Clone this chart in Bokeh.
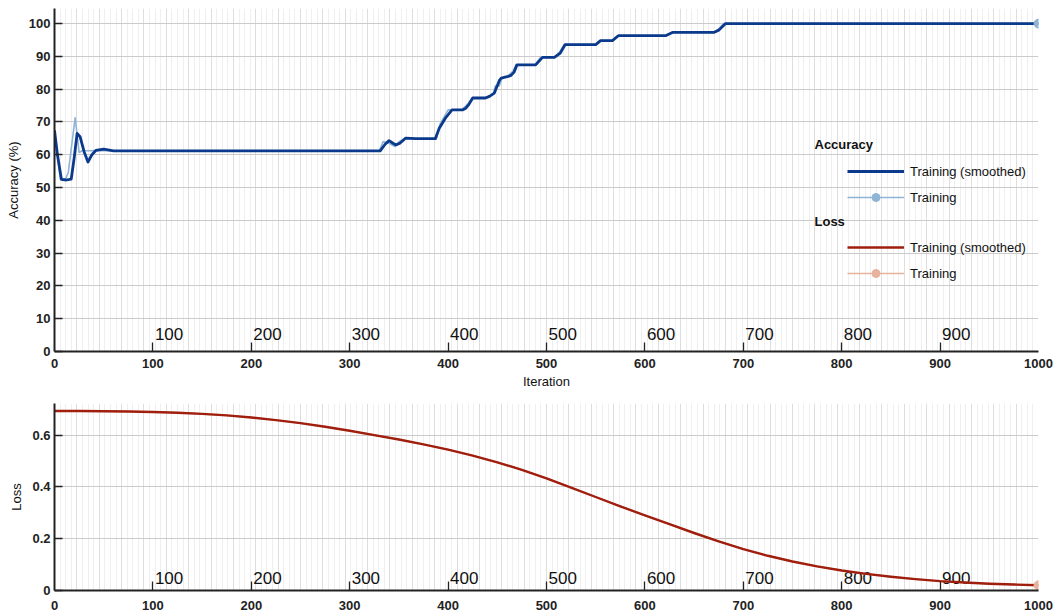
from bokeh.plotting import figure
from bokeh.models import FixedTicker, Range1d, Legend, LegendItem, Label
from bokeh.layouts import column
from bokeh.embed import file_html
from bokeh.resources import INLINE
from bokeh.core.properties import value

FONT = "Liberation Sans"

# ---------------- data ----------------
acc_smooth_iter = [0, 3, 7, 12, 17, 20, 23, 26, 30, 34, 38, 42, 50, 60, 331, 336, 340, 344, 347, 351,
                   357, 367, 387, 391, 398, 404, 415, 418, 421, 425, 438, 442, 447, 452, 454, 460,
                   464, 467, 470, 489, 492, 496, 508, 514, 519, 550, 555, 567, 573, 621, 628, 670,
                   675, 682, 1000]
acc_smooth_val = [67.4, 60.0, 52.5, 52.3, 52.6, 59.0, 66.5, 65.5, 61.0, 57.8, 60.0, 61.3, 61.7, 61.2,
                  61.2, 63.2, 64.3, 63.5, 63.0, 63.5, 65.1, 64.9, 64.9, 68.1, 71.5, 73.7, 73.7, 74.2,
                  75.3, 77.3, 77.3, 77.8, 78.8, 82.6, 83.4, 83.8, 84.2, 85.2, 87.4, 87.4, 88.4, 89.7,
                  89.7, 91.0, 93.6, 93.6, 94.8, 94.8, 96.3, 96.3, 97.3, 97.3, 98.0, 100.0, 100.0]

acc_raw_iter = [0, 6, 11, 14, 21, 25, 28, 60, 330, 334, 340, 346, 350, 356, 365, 388, 392, 400, 414,
                420, 425, 438, 446, 448, 452, 455, 460, 466, 469, 488, 494, 508, 513, 518, 550, 554,
                567, 572, 621, 627, 670, 674, 680, 1000]
acc_raw_val = [67.0, 52.5, 52.5, 54.6, 71.3, 60.7, 61.2, 61.2, 61.2, 64.0, 63.5, 62.5, 64.0, 65.0,
               64.9, 64.9, 69.5, 73.7, 73.7, 75.5, 77.3, 77.3, 78.5, 81.0, 81.0, 83.5, 83.8, 85.5,
               87.4, 87.4, 89.7, 89.7, 91.2, 93.6, 93.6, 94.8, 94.8, 96.3, 96.3, 97.3, 97.3, 98.0,
               100.0, 100.0]

loss_iter = [0, 25, 50, 75, 100, 125, 150, 175, 200, 225, 250, 275, 300, 325, 350, 375, 400,
             425, 450, 475, 500, 525, 550, 575, 600, 625, 650, 675, 700, 725, 750, 775, 800,
             825, 850, 875, 900, 925, 950, 975, 1000]
loss_smooth_val = [0.693, 0.693, 0.692, 0.691, 0.689, 0.686, 0.682, 0.676, 0.668, 0.658, 0.646,
                   0.632, 0.617, 0.600, 0.583, 0.564, 0.544, 0.521, 0.495, 0.466, 0.433, 0.397,
                   0.361, 0.325, 0.290, 0.256, 0.222, 0.190, 0.160, 0.134, 0.112, 0.093, 0.077,
                   0.064, 0.053, 0.044, 0.036, 0.031, 0.026, 0.023, 0.020]
loss_raw_val = [0.693, 0.693, 0.692, 0.691, 0.689, 0.686, 0.682, 0.676, 0.668, 0.658, 0.646,
                0.632, 0.617, 0.600, 0.583, 0.564, 0.544, 0.521, 0.495, 0.466, 0.433, 0.397,
                0.361, 0.325, 0.290, 0.256, 0.222, 0.190, 0.160, 0.134, 0.112, 0.093, 0.077,
                0.064, 0.053, 0.044, 0.036, 0.031, 0.026, 0.023, 0.020]

x_tick_values = [0, 100, 200, 300, 400, 500, 600, 700, 800, 900, 1000]
inner_tick_values = [100, 200, 300, 400, 500, 600, 700, 800, 900]
acc_y_ticks = [0, 10, 20, 30, 40, 50, 60, 70, 80, 90, 100]
loss_y_ticks = [0, 0.2, 0.4, 0.6]
loss_y_labels = ["0", "0.2", "0.4", "0.6"]

# ---------------- colours ----------------
ACC_DARK = "#0b3a8c"
ACC_LIGHT = "#8fb4d6"
LOSS_DARK = "#a01e0d"
LOSS_LIGHT = "#e8b29c"

# vertical background grid (style only)
n_epochs = 44
grid_major = [i * 1000.0 / n_epochs for i in range(n_epochs + 1)]
grid_minor = [i * 1000.0 / (n_epochs * 4) for i in range(n_epochs * 4 + 1)]


def make_fig(height, bl, br, bt, bb, y_end, yticks, show_xlabel, ylabel, xstand):
    p = figure(width=1056, height=height, output_backend="svg", toolbar_location=None,
               x_range=Range1d(0, 1000), y_range=Range1d(0, y_end),
               min_border_left=bl, min_border_right=br, min_border_top=bt, min_border_bottom=bb)
    p.outline_line_color = None
    p.background_fill_color = "white"
    p.border_fill_color = "white"

    p.xgrid.ticker = FixedTicker(ticks=grid_major, minor_ticks=grid_minor)
    p.xgrid.grid_line_color = "#dedede"
    p.xgrid.grid_line_width = 1
    p.xgrid.minor_grid_line_color = "#efefef"
    p.xgrid.minor_grid_line_width = 1
    p.ygrid.ticker = FixedTicker(ticks=yticks)
    p.ygrid.grid_line_color = "#cbcbcb"
    p.ygrid.grid_line_width = 1

    xa = p.xaxis[0]
    xa.ticker = FixedTicker(ticks=x_tick_values, minor_ticks=inner_tick_values)
    xa.major_tick_in = 0
    xa.major_tick_out = 0
    xa.minor_tick_in = 9
    xa.minor_tick_out = 0
    xa.minor_tick_line_color = "#222222"
    xa.minor_tick_line_width = 1.3
    xa.axis_line_color = "#222222"
    xa.axis_line_width = 2
    xa.major_label_text_font = FONT
    xa.major_label_text_font_style = "bold"
    xa.major_label_text_font_size = "13px"
    xa.major_label_text_color = "#222222"
    xa.major_label_standoff = xstand
    if show_xlabel:
        xa.axis_label = "Iteration"
        xa.axis_label_text_font = FONT
        xa.axis_label_text_font_style = "normal"
        xa.axis_label_text_font_size = "13px"
        xa.axis_label_text_color = "#111111"
        xa.axis_label_standoff = 3

    ya = p.yaxis[0]
    ya.ticker = FixedTicker(ticks=yticks)
    ya.major_tick_in = 8
    ya.major_tick_out = 0
    ya.major_tick_line_color = "#222222"
    ya.major_tick_line_width = 1.5
    ya.axis_line_color = "#222222"
    ya.axis_line_width = 2
    ya.major_label_text_font = FONT
    ya.major_label_text_font_style = "bold"
    ya.major_label_text_font_size = "13px"
    ya.major_label_text_color = "#222222"
    ya.major_label_standoff = 4
    ya.axis_label = ylabel
    ya.axis_label_text_font = FONT
    ya.axis_label_text_font_style = "normal"
    ya.axis_label_text_font_size = "13px"
    ya.axis_label_text_color = "#111111"
    ya.axis_label_standoff = 5
    return p


def inner_labels(p, yoff):
    p.text(x=inner_tick_values, y=[0] * len(inner_tick_values),
           text=[str(v) for v in inner_tick_values],
           x_offset=2, y_offset=yoff, text_font=value(FONT), text_font_size="17px",
           text_align="left", text_baseline="bottom", text_color="#111111")


# ---------------- accuracy figure ----------------
p1 = make_fig(392, 54, 16, 8, 41, 104.6, acc_y_ticks, True, "Accuracy (%)", 7)
inner_labels(p1, -12)

acc_r = p1.line(acc_raw_iter, acc_raw_val, line_color=ACC_LIGHT, line_width=1.6, line_join="round")
acc_s = p1.line(acc_smooth_iter, acc_smooth_val, line_color=ACC_DARK, line_width=2.8, line_join="round")
acc_dot = p1.scatter([acc_raw_iter[-1]], [acc_raw_val[-1]], size=9, marker="circle",
                     fill_color=ACC_LIGHT, line_color=ACC_LIGHT)

# proxies for the loss legend entries (placed outside the visible range)
proxy_x = [-600, -500]
proxy_y = [-600, -600]
loss_s_proxy = p1.line(proxy_x, proxy_y, line_color=LOSS_DARK, line_width=2.6)
loss_r_proxy = p1.line(proxy_x, proxy_y, line_color=LOSS_LIGHT, line_width=1.6)
loss_dot_proxy = p1.scatter(proxy_x[:1], proxy_y[:1], size=9, marker="circle",
                            fill_color=LOSS_LIGHT, line_color=LOSS_LIGHT)

common = dict(glyph_width=57, glyph_height=20, label_height=20, spacing=6, padding=0, margin=0,
              label_standoff=6, label_text_font=FONT, label_text_font_size="13px",
              label_text_color="#111111", background_fill_alpha=0, border_line_color=None)

leg_acc = Legend(items=[LegendItem(label="Training (smoothed)", renderers=[acc_s]),
                        LegendItem(label="Training", renderers=[acc_r, acc_dot])],
                 location=(793, 144), **common)
leg_loss = Legend(items=[LegendItem(label="Training (smoothed)", renderers=[loss_s_proxy]),
                         LegendItem(label="Training", renderers=[loss_r_proxy, loss_dot_proxy])],
                  location=(793, 68), **common)
p1.add_layout(leg_acc)
p1.add_layout(leg_loss)

for txt, yy in (("Accuracy", 207), ("Loss", 130)):
    p1.add_layout(Label(x=760, y=yy, x_units="screen", y_units="screen", text=txt,
                        text_font=FONT, text_font_style="bold", text_font_size="13px",
                        text_baseline="middle", text_color="#111111"))

# ---------------- loss figure ----------------
p2 = make_fig(220, 51, 18, 11, 22, 0.722, loss_y_ticks, False, "Loss", 10)
p2.yaxis[0].major_label_overrides = {t: s for t, s in zip(loss_y_ticks, loss_y_labels)}
inner_labels(p2, -7)

p2.line(loss_iter, loss_raw_val, line_color=LOSS_LIGHT, line_width=1.6, line_join="round")
p2.line(loss_iter, loss_smooth_val, line_color=LOSS_DARK, line_width=2.4, line_join="round")
p2.scatter([loss_iter[-1]], [loss_raw_val[-1]], size=9, marker="circle",
           fill_color=LOSS_LIGHT, line_color=LOSS_LIGHT)

layout = column(p1, p2, spacing=0)
open("out.html", "w").write(file_html(layout, INLINE))
